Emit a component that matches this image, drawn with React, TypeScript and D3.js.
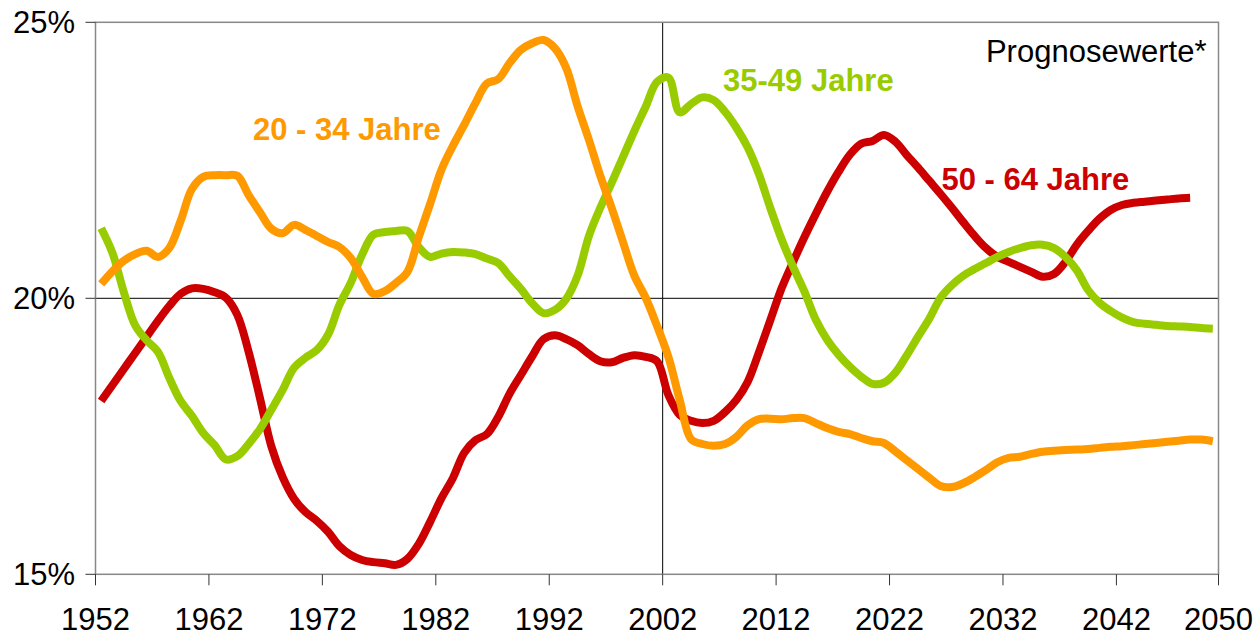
import React from "react";
import * as d3 from "d3";

const startYear = 1952;
const endYearBoundary = 2051;

const xTickYears = [1952, 1962, 1972, 1982, 1992, 2002, 2012, 2022, 2032, 2042, 2051];
const xTickLabels = ["1952", "1962", "1972", "1982", "1992", "2002", "2012", "2022", "2032", "2042", "2050"];
const yTicks = [15, 20, 25];
const yTickLabels = ["15%", "20%", "25%"];

// 20 - 34 Jahre, 1952..2050
const age20to34 = [
  20.26, 20.49, 20.68, 20.8, 20.86, 20.75, 20.91, 21.4, 21.98, 22.2,
  22.23, 22.23, 22.22, 21.87, 21.56, 21.26, 21.18, 21.33, 21.24, 21.13,
  21.02, 20.93, 20.73, 20.39, 20.08, 20.13, 20.28, 20.48, 21.11, 21.71,
  22.33, 22.76, 23.14, 23.54, 23.89, 23.97, 24.26, 24.5, 24.62, 24.68,
  24.53, 24.17, 23.48, 22.87, 22.22, 21.64, 21.02, 20.41, 20.01, 19.5,
  18.94, 18.16, 17.45, 17.36, 17.33, 17.36, 17.49, 17.7, 17.81, 17.82,
  17.81, 17.83, 17.83, 17.74, 17.65, 17.58, 17.54, 17.47, 17.41, 17.38,
  17.23, 17.07, 16.91, 16.75, 16.6, 16.58, 16.65, 16.76, 16.89, 17.03,
  17.11, 17.13, 17.18, 17.22, 17.24, 17.25, 17.26, 17.27, 17.29, 17.31,
  17.32, 17.34, 17.36, 17.38, 17.4, 17.42, 17.44, 17.44, 17.41,
];

// 35-49 Jahre, 1952..2050
const age35to49 = [
  21.27, 20.82, 20.11, 19.51, 19.24, 19.03, 18.56, 18.14, 17.87, 17.56,
  17.34, 17.08, 17.14, 17.36, 17.63, 17.98, 18.34, 18.74, 18.92, 19.06,
  19.34, 19.88, 20.28, 20.79, 21.15, 21.2, 21.22, 21.22, 20.93, 20.75,
  20.81, 20.84, 20.83, 20.8, 20.72, 20.64, 20.4, 20.17, 19.91, 19.73,
  19.79, 19.99, 20.41, 21.13, 21.64, 22.09, 22.56, 23.03, 23.47, 23.92,
  24.0, 23.37, 23.52, 23.64, 23.59, 23.38, 23.09, 22.73, 22.24, 21.63,
  21.06, 20.57, 20.12, 19.61, 19.25, 18.98, 18.76, 18.58, 18.45, 18.47,
  18.65, 18.96, 19.3, 19.63, 20.01, 20.24, 20.41, 20.53, 20.64, 20.75,
  20.84, 20.91, 20.96, 20.97, 20.91, 20.75, 20.51, 20.15, 19.92, 19.77,
  19.65, 19.57, 19.54, 19.52, 19.5, 19.49, 19.48, 19.46, 19.45,
];

// 50 - 64 Jahre, 1952..2048
const age50to64 = [
  18.14, 18.43, 18.72, 19.01, 19.3, 19.59, 19.86, 20.08, 20.18, 20.17,
  20.11, 20.01, 19.7, 19.03, 18.19, 17.32, 16.76, 16.37, 16.13, 15.97,
  15.77, 15.51, 15.35, 15.26, 15.22, 15.2, 15.17, 15.28, 15.55, 15.95,
  16.38, 16.74, 17.2, 17.43, 17.54, 17.85, 18.27, 18.61, 18.95, 19.26,
  19.33, 19.26, 19.15, 18.99, 18.86, 18.84, 18.92, 18.97, 18.94, 18.86,
  18.25, 17.89, 17.78, 17.74, 17.78, 17.94, 18.16, 18.49, 19.03, 19.61,
  20.19, 20.66, 21.11, 21.53, 21.93, 22.29, 22.6, 22.8, 22.85, 22.96,
  22.84, 22.6, 22.37, 22.13, 21.89, 21.64, 21.38, 21.13, 20.91, 20.75,
  20.66, 20.57, 20.48, 20.39, 20.44, 20.66, 20.97, 21.22, 21.44, 21.6,
  21.69, 21.73, 21.75, 21.77, 21.79, 21.81, 21.82,
];

const seriesNames = ["50 - 64 Jahre", "35-49 Jahre", "20 - 34 Jahre"];
const seriesColors = ["#CC0000", "#99CC00", "#FF9900"];
const seriesData = [age50to64, age35to49, age20to34];

const W = 1258;
const H = 637;
const left = 95.5;
const right = 1218.5;
const top = 22.3;
const bottom = 574.3;
const FONT = "'Liberation Sans', Arial, sans-serif";

export default function App() {
  const x = d3.scaleLinear().domain([startYear, endYearBoundary]).range([left, right]);
  const y = d3.scaleLinear().domain([15, 25]).range([bottom, top]);
  const line = d3
    .line<number>()
    .x((_, i) => x(startYear + i + 0.5))
    .y((d) => y(d))
    .curve(d3.curveCatmullRom.alpha(0.5));

  return (
    <svg
      width={W}
      height={H}
      style={{ position: "absolute", left: 0, top: 0, display: "block", background: "#fff" }}
      fontFamily={FONT}
    >
      <line x1={left} x2={right} y1={y(20)} y2={y(20)} stroke="#000" strokeWidth={1} />
      <line x1={x(2002)} x2={x(2002)} y1={top} y2={bottom} stroke="#000" strokeWidth={1} />
      <rect x={left} y={top} width={right - left} height={bottom - top} fill="none" stroke="#888" strokeWidth={1.5} />
      {yTicks.map((t, i) => (
        <g key={t}>
          <line x1={left - 10} x2={left} y1={y(t)} y2={y(t)} stroke="#333" strokeWidth={1} />
          <text x={75} y={y(t)} dy="0.36em" textAnchor="end" fontSize={31} fill="#000">
            {yTickLabels[i]}
          </text>
        </g>
      ))}
      {xTickYears.map((t, i) => (
        <g key={t}>
          <line x1={x(t)} x2={x(t)} y1={bottom} y2={bottom + 11} stroke="#333" strokeWidth={1} />
          <text x={x(t)} y={630} textAnchor="middle" fontSize={31} fill="#000">
            {xTickLabels[i]}
          </text>
        </g>
      ))}
      {seriesData.map((s, i) => (
        <path
          key={seriesNames[i]}
          d={line(s) || ""}
          fill="none"
          stroke={seriesColors[i]}
          strokeWidth={8}
          strokeLinejoin="round"
          strokeLinecap="butt"
        />
      ))}
      <text x={253} y={139.5} fontSize={31} fontWeight="bold" fill="#FF9900">20 - 34 Jahre</text>
      <text x={723} y={90.5} fontSize={31} fontWeight="bold" fill="#99CC00">35-49 Jahre</text>
      <text x={941.5} y={189.5} fontSize={31} fontWeight="bold" fill="#CC0000">50 - 64 Jahre</text>
      <text x={1206.5} y={61.5} fontSize={31} textAnchor="end" fill="#000">Prognosewerte*</text>
    </svg>
  );
}
